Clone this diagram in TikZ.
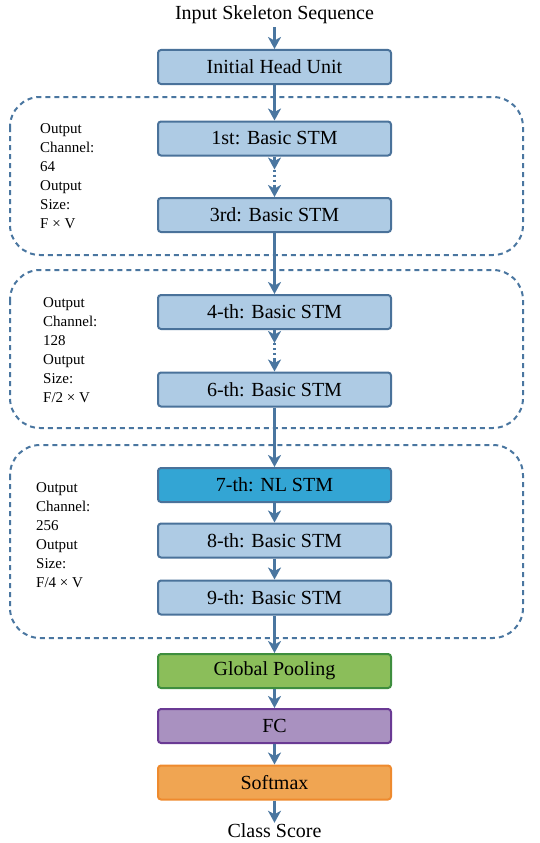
\documentclass[tikz,border=0pt]{standalone}
\usepackage{fontspec}
\setmainfont{Liberation Serif}
\usetikzlibrary{arrows.meta}
\definecolor{lblue}{HTML}{AECBE4}
\definecolor{edgeblue}{HTML}{4A729A}
\definecolor{arrblue}{HTML}{4A76A0}
\definecolor{nlblue}{HTML}{33A5D4}
\definecolor{gfill}{HTML}{8BBE5A}
\definecolor{gedge}{HTML}{3E8E3E}
\definecolor{pfill}{HTML}{A991C0}
\definecolor{pedge}{HTML}{6A3A94}
\definecolor{ofill}{HTML}{F0A552}
\definecolor{oedge}{HTML}{EE8A2E}
\tikzset{
  boxnode/.style={draw=edgeblue, fill=lblue, line width=2pt, rounded corners=3pt,
    minimum width=233pt, minimum height=34pt, inner sep=0pt,
    font=\fontsize{20}{24}\selectfont},
  plain/.style={font=\fontsize{20}{24}\selectfont, inner sep=0pt},
  arr/.style={draw=arrblue, line width=2.7pt, -{Stealth[length=12pt,width=13pt,inset=3.5pt]}},
  dotline/.style={draw=arrblue, line width=2.7pt, dash pattern=on 2pt off 3pt},
  group/.style={draw=arrblue, line width=2pt, dash pattern=on 5pt off 4pt, rounded corners=30pt},
  side/.style={align=left, anchor=west, inner sep=0pt, font=\fontsize{15}{19}\selectfont}
}
\begin{document}
\begin{tikzpicture}[x=1pt,y=-1pt]
\useasboundingbox (0,0) rectangle (539,843);
% groups
\draw[group] (10,97) rectangle (523,255);
\draw[group] (10,270) rectangle (523,428);
\draw[group] (10,445) rectangle (523,638);
% nodes
\node[plain] (in) at (274.5,15) {Input Skeleton Sequence};
\node[boxnode] (ihu) at (274.5,67) {Initial Head Unit};
\node[boxnode] (b1) at (274.5,138.5) {1st: Basic STM};
\node[boxnode] (b3) at (274.5,215) {3rd: Basic STM};
\node[boxnode] (b4) at (274.5,312) {4-th: Basic STM};
\node[boxnode] (b6) at (274.5,389.5) {6-th: Basic STM};
\node[boxnode, fill=nlblue] (b7) at (274.5,485) {7-th: NL STM};
\node[boxnode] (b8) at (274.5,540.5) {8-th: Basic STM};
\node[boxnode] (b9) at (274.5,597.5) {9-th: Basic STM};
\node[boxnode, fill=gfill, draw=gedge] (gp) at (274.5,671) {Global Pooling};
\node[boxnode, fill=pfill, draw=pedge] (fc) at (274.5,726) {FC};
\node[boxnode, fill=ofill, draw=oedge] (sm) at (274.5,782.5) {Softmax};
\node[plain] (cs) at (274.5,831) {Class Score};
% side texts
\node[side] (t1) at (40,176) {Output\\Channel:\\64\\Output\\Size:\\F × V};
\node[side] (t2) at (43,350) {Output\\Channel:\\128\\Output\\Size:\\F/2 × V};
\node[side] (t3) at (36,535) {Output\\Channel:\\256\\Output\\Size:\\F/4 × V};
% connectors
\draw[arr] ([yshift=-3pt]in.south) -- (ihu.north);
\draw[arr] (ihu.south) -- (b1.north);
\coordinate (d1a) at ([yshift=-13pt]b1.south);
\coordinate (d1b) at ([yshift=12pt]b3.north);
\draw[arr] (b1.south) -- (d1a);
\draw[dotline] (d1a) -- (d1b);
\draw[arr] (d1b) -- (b3.north);
\draw[arr] (b3.south) -- (b4.north);
\coordinate (d2a) at ([yshift=-13pt]b4.south);
\coordinate (d2b) at ([yshift=12pt]b6.north);
\draw[arr] (b4.south) -- (d2a);
\draw[dotline] (d2a) -- (d2b);
\draw[arr] (d2b) -- (b6.north);
\draw[arr] (b6.south) -- (b7.north);
\draw[arr] (b7.south) -- (b8.north);
\draw[arr] (b8.south) -- (b9.north);
\draw[arr] (b9.south) -- (gp.north);
\draw[arr] (gp.south) -- (fc.north);
\draw[arr] (fc.south) -- (sm.north);
\draw[arr] (sm.south) -- ([yshift=1pt]cs.north);
\end{tikzpicture}
\end{document}
